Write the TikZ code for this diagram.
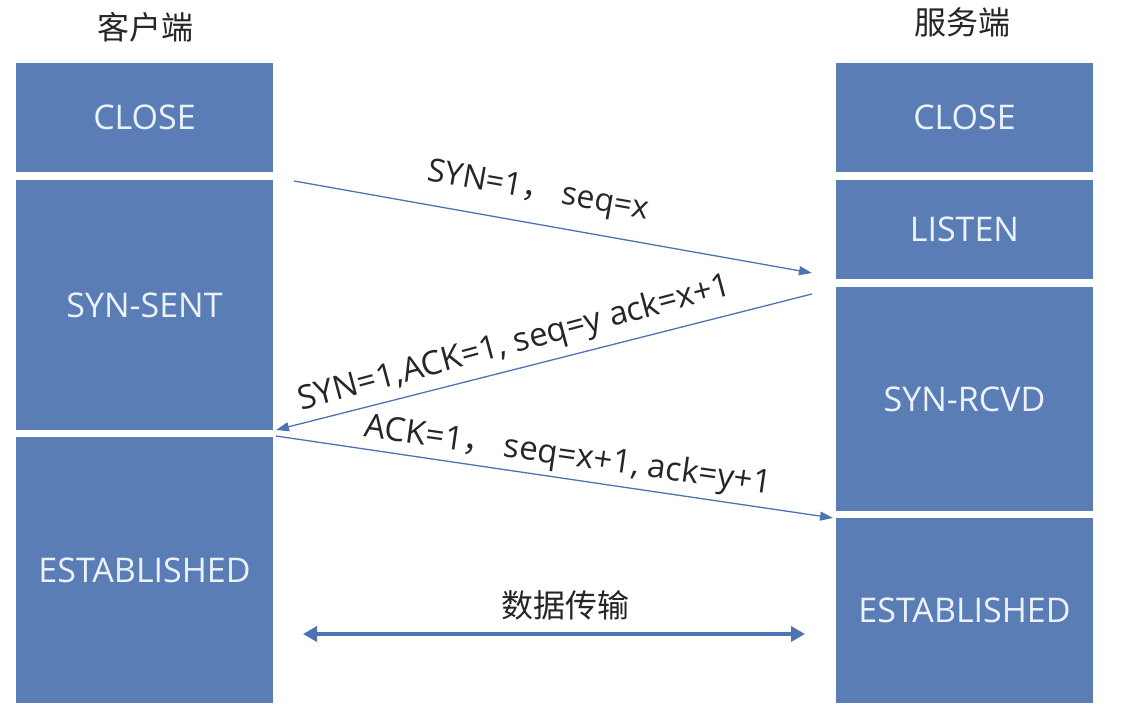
\documentclass[tikz,border=0pt]{standalone}
\usepackage{fontspec}
\setmainfont{Open Sans}
\newfontfamily\cjk{Noto Sans CJK SC}
\usetikzlibrary{arrows.meta}
\definecolor{boxblue}{RGB}{91,125,182}
\definecolor{lineblue}{RGB}{79,115,178}
\definecolor{boxtext}{RGB}{236,242,250}
\begin{document}
\begin{tikzpicture}[x=1pt,y=1pt,
    state/.style={fill=boxblue,text=boxtext,minimum width=257pt,inner sep=0pt,outer sep=0pt,font=\fontsize{34}{40}\selectfont},
    msg/.style={draw=lineblue,line width=1.3pt,-{Triangle[length=13pt,width=9pt]}},
    lbl/.style={text=black!85,font=\fontsize{33}{38}\selectfont},
    side/.style={text=black!85,font=\cjk\fontsize{32}{38}\selectfont}]
\useasboundingbox[fill=white] (0,0) rectangle (1137,708);
    % client side
    \node[side] (cTitle) at (145,681) {客户端};
    \node[state,minimum height=109pt] (cClose) at (144.5,590.5) {CLOSE};
    \node[state,minimum height=250pt] (cSent) at (144.5,403) {SYN-SENT};
    \node[state,minimum height=266pt] (cEst) at (144.5,138) {ESTABLISHED};
    % server side
    \node[side] (sTitle) at (962,686) {服务端};
    \node[state,minimum height=109pt] (sClose) at (964.5,590.5) {CLOSE};
    \node[state,minimum height=99pt] (sListen) at (964.5,478.5) {LISTEN};
    \node[state,minimum height=224pt] (sRcvd) at (964.5,309) {SYN-RCVD};
    \node[state,minimum height=185pt] (sEst) at (964.5,97.5) {ESTABLISHED};
    % handshake
    \draw[msg] ([shift={(21,-1)}]cSent.north east) -- ([shift={(-24,6)}]sListen.south west);
    \draw[msg] ([shift={(-24,-7)}]sRcvd.north west) -- ([shift={(3,0)}]cSent.south east);
    \draw[msg] ([shift={(3,1)}]cEst.north east) -- ([shift={(-3,0)}]sEst.north west);
    \node[lbl,rotate=-10,font=\fontsize{32}{38}\selectfont] (synLbl) at (538,516) {SYN=1{\cjk ，}\ seq=x};
    \node[lbl,rotate=15] (synackLbl) at (515,364) {SYN=1,ACK=1, seq=y ack=x+1};
    \node[lbl,rotate=-8] (ackLbl) at (568,251) {ACK=1{\cjk ，}\ seq=x+1, ack=y+1};
    % data
    \coordinate (dLeft) at (303,74);
    \coordinate (dRight) at (805,74);
    \draw[lineblue,line width=4pt,{Triangle[length=14pt,width=15pt]}-{Triangle[length=14pt,width=15pt]}] (dLeft) -- (dRight);
    \node[side] (dataLbl) at (565,103) {数据传输};
\end{tikzpicture}
\end{document}
